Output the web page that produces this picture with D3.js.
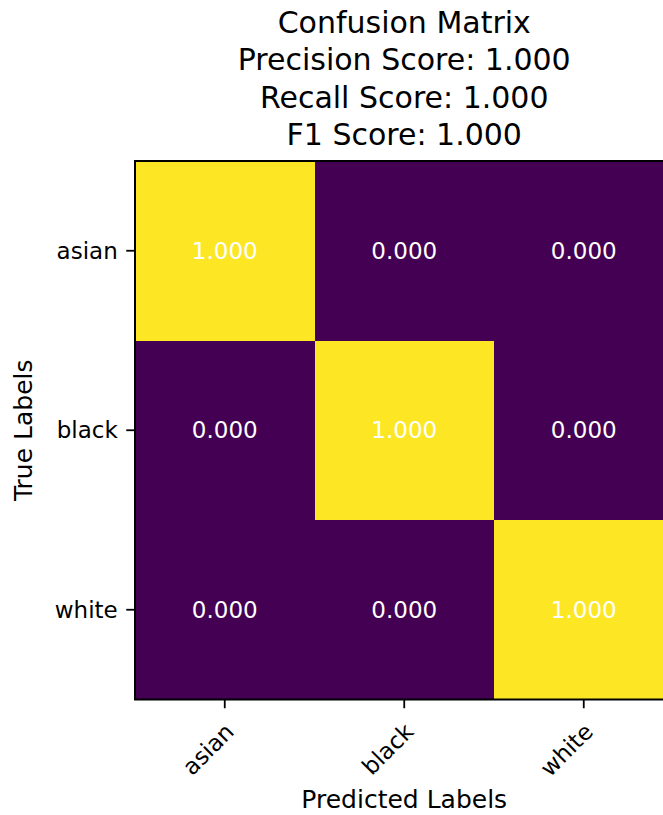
<!DOCTYPE html>
<html>
<head>
<meta charset="utf-8">
<script src="https://cdn.jsdelivr.net/npm/d3@7"></script>
<style>
  html, body { margin: 0; padding: 0; background: #fff; }
  svg { display: block; font-family: "DejaVu Sans", sans-serif; }
</style>
</head>
<body>
<svg id="chart" width="663" height="815"></svg>
<script>
// Class labels (rows = true, columns = predicted)
const categories = ["asian", "black", "white"];
// Normalised confusion matrix values, one row per true label
const rowAsian = [1.0, 0.0, 0.0];
const rowBlack = [0.0, 1.0, 0.0];
const rowWhite = [0.0, 0.0, 1.0];
const matrix = [rowAsian, rowBlack, rowWhite];
// Summary scores shown in the title
const titleLines = [
  "Confusion Matrix",
  "Precision Score: 1.000",
  "Recall Score: 1.000",
  "F1 Score: 1.000"
];

const svg = d3.select("#chart");
const plotLeft = 135, plotTop = 161, plotSize = 538.5;

const x = d3.scaleBand().domain(categories).range([plotLeft, plotLeft + plotSize]);
const y = d3.scaleBand().domain(categories).range([plotTop, plotTop + plotSize]);
const color = d3.scaleSequential(d3.interpolateViridis).domain([0, 1]);

const cells = [];
matrix.forEach((row, i) => row.forEach((v, j) => cells.push({ t: categories[i], p: categories[j], v })));

const g = svg.append("g");
g.selectAll("rect.cell").data(cells).join("rect")
  .attr("class", "cell")
  .attr("x", d => x(d.p))
  .attr("y", d => y(d.t))
  .attr("width", x.bandwidth())
  .attr("height", y.bandwidth())
  .attr("fill", d => color(d.v))
  .attr("shape-rendering", "crispEdges");

g.selectAll("text.val").data(cells).join("text")
  .attr("class", "val")
  .attr("x", d => x(d.p) + x.bandwidth() / 2)
  .attr("y", d => y(d.t) + y.bandwidth() / 2)
  .attr("text-anchor", "middle")
  .attr("dominant-baseline", "central")
  .attr("fill", "#ffffff")
  .attr("font-size", 23)
  .text(d => d.v.toFixed(3));

// Axes frame
svg.append("rect")
  .attr("x", plotLeft).attr("y", plotTop)
  .attr("width", plotSize).attr("height", plotSize)
  .attr("fill", "none").attr("stroke", "#000").attr("stroke-width", 2);

// Y axis
const yAxis = svg.append("g")
  .attr("transform", `translate(${plotLeft},0)`)
  .call(d3.axisLeft(y).tickSize(8.75).tickSizeOuter(0).tickPadding(8.5));
yAxis.select(".domain").remove();
yAxis.selectAll("line").attr("stroke", "#000").attr("stroke-width", 1.8);
yAxis.selectAll("text")
  .attr("font-size", 23).attr("fill", "#000")
  .attr("font-family", "DejaVu Sans, sans-serif")
  .attr("dy", null).attr("dominant-baseline", "central");

// X axis with rotated tick labels
const xAxis = svg.append("g")
  .attr("transform", `translate(0,${plotTop + plotSize})`)
  .call(d3.axisBottom(x).tickSize(8.75).tickSizeOuter(0));
xAxis.select(".domain").remove();
xAxis.selectAll("line").attr("stroke", "#000").attr("stroke-width", 1.8);
xAxis.selectAll("text")
  .attr("font-size", 23).attr("fill", "#000")
  .attr("font-family", "DejaVu Sans, sans-serif")
  .attr("y", null).attr("dy", null)
  .attr("text-anchor", "end")
  .attr("dominant-baseline", "central")
  .attr("transform", "translate(5,28) rotate(-45)");

// Title
svg.append("g").selectAll("text").data(titleLines).join("text")
  .attr("x", plotLeft + plotSize / 2)
  .attr("y", (d, i) => 33 + i * 37.3)
  .attr("text-anchor", "middle")
  .attr("font-size", 30)
  .attr("fill", "#000")
  .text(d => d);

// Axis labels
svg.append("text")
  .attr("x", plotLeft + plotSize / 2).attr("y", 808)
  .attr("text-anchor", "middle").attr("font-size", 25).attr("fill", "#000")
  .text("Predicted Labels");

svg.append("text")
  .attr("transform", `translate(32,${plotTop + plotSize / 2}) rotate(-90)`)
  .attr("text-anchor", "middle").attr("font-size", 25).attr("fill", "#000")
  .text("True Labels");
</script>
</body>
</html>
